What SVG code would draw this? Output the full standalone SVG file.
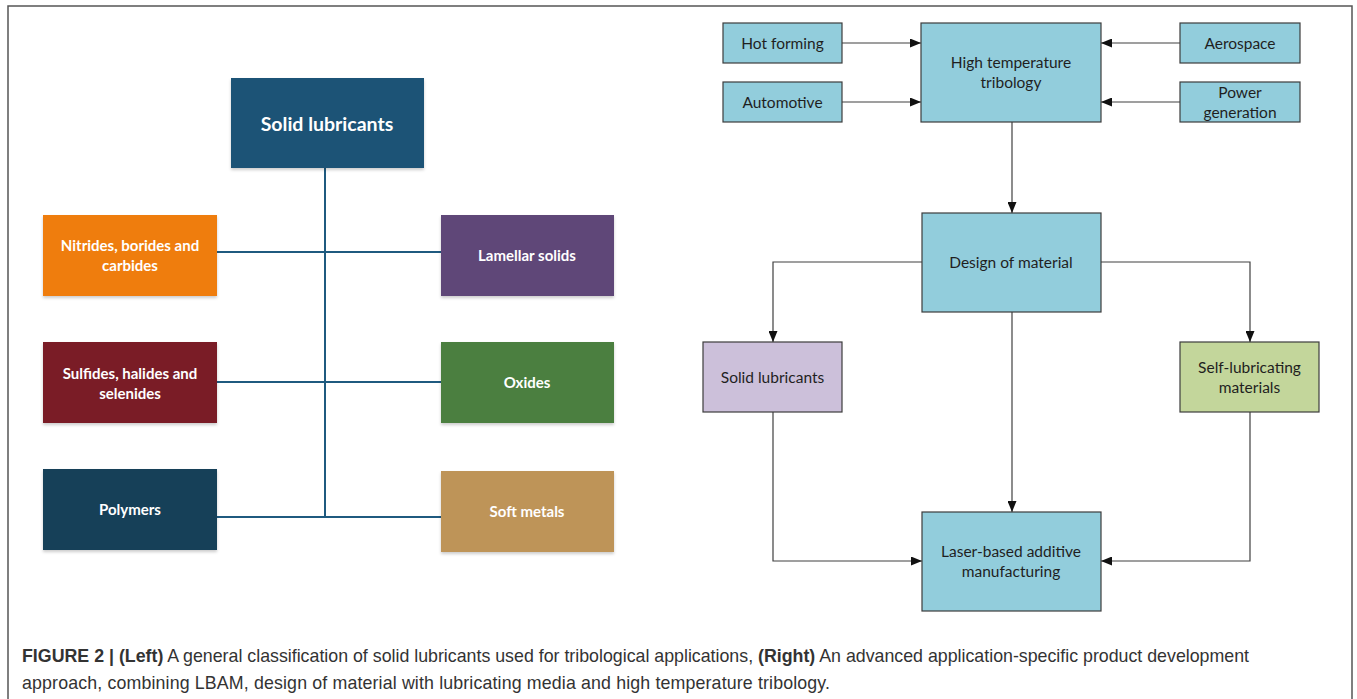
<svg xmlns="http://www.w3.org/2000/svg" width="1357" height="699" viewBox="0 0 1357 699">
<style>
.lt{font-family:Lato,"Open Sans",sans-serif;font-weight:bold;fill:#ffffff;text-anchor:middle;dominant-baseline:central;font-size:15px}
.rt{font-family:Lato,"Open Sans",sans-serif;fill:#1f1f1f;text-anchor:middle;dominant-baseline:central;font-size:15.5px}
.rb{stroke:#3c3c3c;stroke-width:1.2}
.tree{stroke:#1f5a7f;stroke-width:2;fill:none}
.con{stroke:#404040;stroke-width:1.2;fill:none}
.cap{font-family:"Liberation Sans",Arial,sans-serif;font-size:17.8px;fill:#333333}
</style>
<defs>
<marker id="ah" markerWidth="11" markerHeight="9" refX="11" refY="4.5" orient="auto" markerUnits="userSpaceOnUse">
<path d="M0,0 L11,4.5 L0,9 Z" fill="#111111"/>
</marker>
<filter id="sh" x="-10%" y="-10%" width="120%" height="130%">
<feDropShadow dx="0" dy="2" stdDeviation="1.5" flood-color="#000" flood-opacity="0.2"/>
</filter>
</defs>
<rect x="0" y="0" width="1357" height="699" fill="#ffffff"/>
<path d="M8,705 L8,6 L1352,6 L1352,705" fill="none" stroke="#555555" stroke-width="1.5"/>

<g id="connectors">
<path class="tree" d="M325,168 V517 M216,252 H441 M216,382 H441 M216,517 H441"/>
<path class="con" marker-end="url(#ah)" d="M842,43 H921"/>
<path class="con" marker-end="url(#ah)" d="M842,102 H921"/>
<path class="con" marker-end="url(#ah)" d="M1180,43 H1101"/>
<path class="con" marker-end="url(#ah)" d="M1180,102 H1101"/>
<path class="con" marker-end="url(#ah)" d="M1012,122 V213"/>
<path class="con" marker-end="url(#ah)" d="M922,262 H773 V342"/>
<path class="con" marker-end="url(#ah)" d="M1101,262 H1250 V342"/>
<path class="con" marker-end="url(#ah)" d="M1012,312 V512"/>
<path class="con" marker-end="url(#ah)" d="M773,412 V561 H922"/>
<path class="con" marker-end="url(#ah)" d="M1250,412 V561 H1101"/>
</g>

<g id="n-solid-top"><rect x="231" y="78" width="193" height="90" fill="#1d5376" filter="url(#sh)"/><text class="lt" x="327" y="123" style="font-size:19.5px">Solid lubricants</text></g>
<g id="n-nitrides"><rect x="43" y="215" width="174" height="81" fill="#ef7d0a" filter="url(#sh)"/><text class="lt" x="130" y="245">Nitrides, borides and</text><text class="lt" x="130" y="265">carbides</text></g>
<g id="n-lamellar"><rect x="441" y="215" width="173" height="81" fill="#5f4778" filter="url(#sh)"/><text class="lt" x="527" y="255">Lamellar solids</text></g>
<g id="n-sulfides"><rect x="43" y="342" width="174" height="81" fill="#7a1f28" filter="url(#sh)"/><text class="lt" x="130" y="373">Sulfides, halides and</text><text class="lt" x="130" y="393">selenides</text></g>
<g id="n-oxides"><rect x="441" y="342" width="173" height="81" fill="#4b7f3f" filter="url(#sh)"/><text class="lt" x="527" y="382">Oxides</text></g>
<g id="n-polymers"><rect x="43" y="469" width="174" height="81" fill="#173f58" filter="url(#sh)"/><text class="lt" x="130" y="509">Polymers</text></g>
<g id="n-softmetals"><rect x="441" y="471" width="173" height="81" fill="#be9459" filter="url(#sh)"/><text class="lt" x="527" y="511">Soft metals</text></g>

<g id="n-hotforming"><rect class="rb" x="723" y="23" width="119" height="40" fill="#92cddc"/><text class="rt" x="782.5" y="43">Hot forming</text></g>
<g id="n-automotive"><rect class="rb" x="723" y="82" width="119" height="40" fill="#92cddc"/><text class="rt" x="782.5" y="102">Automotive</text></g>
<g id="n-htt"><rect class="rb" x="921" y="23" width="180" height="99" fill="#92cddc"/><text class="rt" x="1011" y="62">High temperature</text><text class="rt" x="1011" y="82">tribology</text></g>
<g id="n-aerospace"><rect class="rb" x="1180" y="23" width="120" height="40" fill="#92cddc"/><text class="rt" x="1240" y="43">Aerospace</text></g>
<g id="n-power"><rect class="rb" x="1180" y="82" width="120" height="40" fill="#92cddc"/><text class="rt" x="1240" y="92">Power</text><text class="rt" x="1240" y="112">generation</text></g>
<g id="n-design"><rect class="rb" x="922" y="213" width="179" height="99" fill="#92cddc"/><text class="rt" x="1011" y="262">Design of material</text></g>
<g id="n-solid-right"><rect class="rb" x="703" y="342" width="139" height="70" fill="#ccc0da"/><text class="rt" x="772.5" y="377">Solid lubricants</text></g>
<g id="n-selflub"><rect class="rb" x="1180" y="342" width="139" height="70" fill="#c3d69b"/><text class="rt" x="1249.5" y="367">Self-lubricating</text><text class="rt" x="1249.5" y="387">materials</text></g>
<g id="n-lbam"><rect class="rb" x="922" y="512" width="179" height="99" fill="#92cddc"/><text class="rt" x="1011" y="551">Laser-based additive</text><text class="rt" x="1011" y="571">manufacturing</text></g>

<g id="caption">
<text class="cap" x="22" y="662" textLength="1227"><tspan font-weight="bold">FIGURE 2 | (Left)</tspan> A general classification of solid lubricants used for tribological applications, <tspan font-weight="bold">(Right)</tspan> An advanced application-specific product development</text>
<text class="cap" x="22" y="689" textLength="808">approach, combining LBAM, design of material with lubricating media and high temperature tribology.</text>
</g>
</svg>
